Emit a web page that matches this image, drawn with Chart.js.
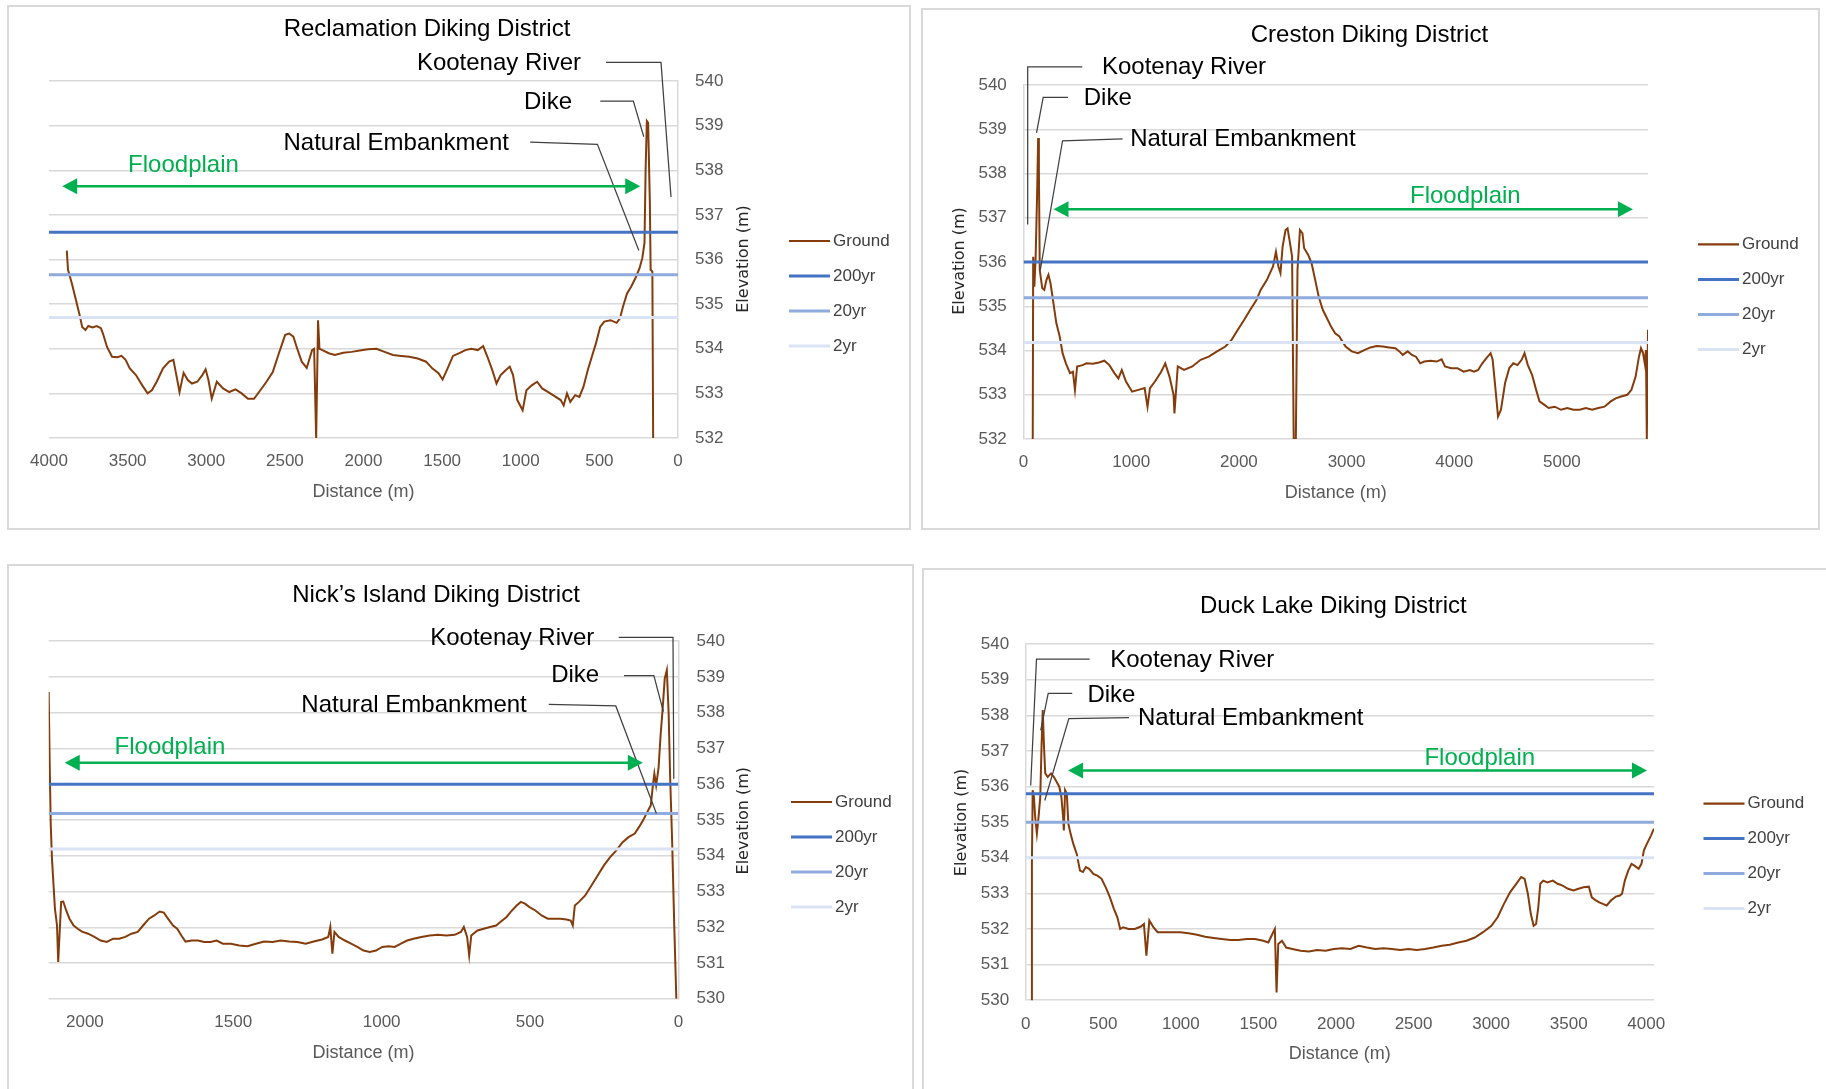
<!DOCTYPE html>
<html><head><meta charset="utf-8">
<script src="https://cdn.jsdelivr.net/npm/chart.js@4.4.0/dist/chart.umd.min.js"></script>
<style>
html,body{margin:0;padding:0;background:#fff;}
body{width:1826px;height:1089px;overflow:hidden;position:relative;}
canvas{position:absolute;}
.frame{position:absolute;box-sizing:border-box;border:0 solid #d9d9d9;pointer-events:none;}
</style></head><body>
<canvas id="c1" width="904" height="525" style="left:7px;top:5px"></canvas>
<canvas id="c2" width="899" height="522" style="left:921px;top:8px"></canvas>
<canvas id="c3" width="907" height="525" style="left:7px;top:564px"></canvas>
<canvas id="c4" width="904" height="521" style="left:922px;top:568px"></canvas>
<div class="frame" style="left:7px;top:5px;width:904px;height:525px;border-width:2px"></div>
<div class="frame" style="left:921px;top:8px;width:899px;height:522px;border-width:2px"></div>
<div class="frame" style="left:7px;top:564px;width:907px;height:530px;border-width:2px 2px 0 2px"></div>
<div class="frame" style="left:922px;top:568px;width:910px;height:530px;border-width:2px 0 0 2px"></div>
<script>
// ---------- DATA ----------
const chartTitles = ['Reclamation Diking District', 'Creston Diking District', 'Nick\u2019s Island Diking District', 'Duck Lake Diking District'];
const seriesNames = ['Ground', '200yr', '20yr', '2yr'];
const annotationTexts = ['Kootenay River', 'Dike', 'Natural Embankment'];
const floodplainText = 'Floodplain';
const xAxisTitle = 'Distance (m)';
const yAxisTitle = 'Elevation (m)';

// Reclamation Diking District
const reclamationRange = [0, 4000];
const reclamationXTicks = [0, 500, 1000, 1500, 2000, 2500, 3000, 3500, 4000];
const reclamationLevels = [536.61, 535.66, 534.70];
const reclamationDistance = [3887,3879,3855,3829,3803,3789,3768,3750,3723,3697,3670,3657,3631,3599,3565,3539,3513,3486,3447,3407,3373,3346,3315,3275,3236,3209,3188,3170,3144,3117,3091,3057,3025,3004,2986,2965,2933,2893,2854,2814,2775,2735,2696,2656,2617,2577,2538,2498,2472,2446,2425,2393,2361,2327,2314,2301,2289,2280,2261,2221,2182,2129,2076,2024,1971,1918,1866,1813,1760,1708,1655,1602,1563,1523,1497,1470,1431,1391,1352,1315,1273,1239,1212,1181,1154,1128,1096,1070,1049,1022,988,964,930,896,864,825,785,746,727,706,685,654,627,601,574,548,522,495,469,429,390,369,350,324,298,271,245,227,213,206,198,190,179,174,163,158];
const reclamationGround = [536.2,535.77,535.47,535.1,534.72,534.49,534.42,534.51,534.48,534.51,534.46,534.34,534.04,533.82,533.81,533.84,533.75,533.56,533.41,533.18,533.0,533.07,533.26,533.56,533.71,533.75,533.37,533.03,533.46,533.30,533.22,533.26,533.41,533.54,533.30,532.88,533.26,533.11,533.03,533.09,533.0,532.88,532.88,533.07,533.26,533.48,533.9,534.31,534.34,534.27,534.04,533.71,533.57,533.97,534.0,532.0,534.64,534.0,533.97,533.9,533.86,533.91,533.93,533.96,533.99,534.0,533.93,533.86,533.84,533.82,533.78,533.71,533.56,533.45,533.31,533.52,533.84,533.9,533.97,534.0,533.97,534.06,533.82,533.52,533.22,533.41,533.52,533.6,533.41,532.85,532.62,533.07,533.18,533.26,533.11,533.03,532.94,532.85,532.73,533.0,532.81,532.96,532.92,533.15,533.52,533.82,534.12,534.49,534.61,534.64,534.58,534.68,534.94,535.24,535.39,535.58,535.8,536.03,536.37,538.01,539.1,539.06,537.27,535.77,535.73,532.0];

// Creston Diking District
const crestonRange = [0, 5800];
const crestonXTicks = [0, 1000, 2000, 3000, 4000, 5000];
const crestonLevels = [536.0, 535.19, 534.18];
const crestonDistance = [85,89,100,112,127,135,142,150,173,192,212,231,250,277,304,335,362,393,431,458,477,497,547,585,643,700,750,797,843,881,912,951,1008,1066,1124,1151,1174,1220,1278,1316,1355,1393,1401,1432,1490,1567,1644,1720,1797,1874,1932,1990,2048,2105,2163,2202,2259,2317,2344,2367,2386,2406,2433,2452,2475,2494,2509,2529,2544,2567,2590,2606,2644,2675,2702,2741,2779,2818,2856,2894,2933,2952,2991,3048,3106,3164,3222,3279,3337,3395,3453,3491,3522,3568,3607,3645,3684,3722,3780,3837,3883,3914,3972,4030,4087,4145,4184,4222,4261,4299,4338,4357,4384,4407,4434,4472,4511,4549,4588,4626,4653,4684,4723,4761,4792,4838,4877,4934,4992,5050,5108,5165,5223,5281,5339,5396,5454,5500,5550,5608,5646,5685,5716,5735,5754,5770,5781,5789,5800];
const crestonGround = [532.0,536.12,535.44,536.12,537.70,538.80,538.08,535.82,535.41,535.37,535.59,535.71,535.52,535.07,534.62,534.32,533.94,533.71,533.49,533.52,533.11,533.64,533.67,533.71,533.7,533.73,533.77,533.67,533.49,533.37,533.56,533.3,533.07,533.11,533.15,532.73,533.15,533.3,533.52,533.71,533.41,533.0,532.58,533.64,533.56,533.64,533.79,533.86,533.98,534.09,534.24,534.47,534.69,534.92,535.14,535.37,535.59,535.9,536.23,535.9,535.75,536.35,536.72,536.76,536.42,536.12,532.0,532.0,535.82,536.72,536.65,536.31,536.16,535.97,535.67,535.22,534.92,534.73,534.54,534.39,534.32,534.24,534.09,533.98,533.94,534.01,534.07,534.1,534.09,534.07,534.05,533.98,533.9,533.98,533.9,533.86,533.71,533.75,533.77,533.75,533.8,533.64,533.6,533.6,533.52,533.56,533.52,533.56,533.71,533.83,533.94,533.79,533.11,532.51,532.66,533.26,533.6,533.71,533.67,533.79,533.94,533.67,533.45,533.11,532.85,532.77,532.7,532.73,532.66,532.7,532.66,532.66,532.7,532.66,532.7,532.73,532.85,532.92,532.96,533.0,533.11,533.41,533.86,534.05,533.94,533.71,534.01,532.0,534.47];

// Nick's Island Diking District
const nicksRange = [0, 2122];
const nicksXTicks = [0, 500, 1000, 1500, 2000];
const nicksLevels = [536.0, 535.18, 534.19];
const nicksDistance = [2122,2119,2115,2111,2101,2094,2090,2085,2080,2073,2063,2052,2038,2024,2010,1989,1968,1947,1926,1905,1884,1864,1843,1822,1804,1784,1766,1748,1734,1720,1703,1689,1675,1661,1640,1619,1598,1577,1556,1535,1508,1480,1452,1424,1396,1368,1340,1312,1284,1256,1229,1201,1180,1173,1166,1159,1145,1124,1103,1082,1061,1040,1019,998,977,956,935,914,893,866,838,810,782,754,733,723,712,705,698,677,656,635,614,600,579,565,545,531,517,503,482,461,440,419,398,377,363,356,349,335,314,293,272,251,230,209,188,168,147,133,119,105,93,86,81,75,67,60,53,46,39,33,28,21,14,7];
const nicksGround = [538.58,536.72,534.85,533.92,532.52,532.05,531.03,531.87,532.71,532.72,532.47,532.24,532.05,531.96,531.88,531.82,531.73,531.63,531.59,531.68,531.68,531.73,531.82,531.87,532.05,532.24,532.33,532.44,532.41,532.24,532.05,531.96,531.77,531.6,531.63,531.63,531.59,531.59,531.63,531.54,531.54,531.49,531.47,531.54,531.6,531.59,531.63,531.6,531.59,531.54,531.6,531.66,531.73,532.01,531.26,531.87,531.73,531.63,531.54,531.45,531.35,531.31,531.35,531.45,531.47,531.45,531.54,531.63,531.68,531.73,531.77,531.79,531.77,531.79,531.87,532.01,531.73,531.21,531.77,531.91,531.96,532.01,532.05,532.15,532.29,532.43,532.61,532.71,532.66,532.57,532.47,532.33,532.24,532.24,532.24,532.22,532.19,532.05,532.61,532.71,532.89,533.17,533.45,533.73,533.96,534.15,534.38,534.52,534.62,534.8,534.99,535.22,535.41,535.97,536.3,535.97,536.44,537.37,538.12,538.96,539.19,538.02,536.25,534.38,532.05,530.0];

// Duck Lake Diking District
const duckRange = [0, 4050];
const duckXTicks = [0, 500, 1000, 1500, 2000, 2500, 3000, 3500, 4000];
const duckLevels = [535.8, 535.0, 534.0];
const duckDistance = [35,40,45,53,61,72,83,94,102,110,118,126,142,163,182,200,217,230,241,246,254,265,275,289,307,329,350,369,388,409,436,462,489,516,543,569,591,609,628,663,703,743,762,778,797,823,850,890,944,997,1050,1104,1157,1211,1264,1318,1371,1425,1478,1532,1564,1590,1606,1617,1628,1652,1679,1719,1772,1826,1879,1933,1986,2039,2093,2146,2200,2253,2307,2360,2414,2467,2521,2574,2628,2681,2734,2788,2841,2895,2948,3002,3042,3082,3122,3162,3194,3216,3237,3256,3274,3290,3304,3317,3336,3363,3398,3429,3461,3496,3531,3563,3595,3630,3649,3670,3697,3724,3745,3772,3804,3830,3844,3862,3884,3905,3924,3951,3969,3985,4004,4031,4050];
const duckGround = [530.0,533.83,535.9,535.71,535.15,534.68,535.15,535.71,537.12,538.15,537.12,536.37,536.27,536.37,536.27,536.13,535.99,535.71,535.15,534.77,535.9,535.8,534.96,534.68,534.39,534.11,533.64,533.6,533.74,533.69,533.55,533.5,533.41,533.17,532.89,532.56,532.33,532.0,532.05,532.0,532.0,532.07,532.14,531.25,532.24,532.05,531.91,531.91,531.91,531.91,531.88,531.84,531.78,531.75,531.72,531.69,531.69,531.72,531.72,531.67,531.62,531.86,532.0,530.22,531.58,531.67,531.48,531.44,531.39,531.37,531.41,531.39,531.44,531.46,531.44,531.53,531.48,531.44,531.46,531.44,531.41,531.44,531.41,531.44,531.48,531.53,531.56,531.62,531.67,531.76,531.91,532.09,532.33,532.7,533.03,533.27,533.46,533.41,532.99,532.42,532.09,532.14,532.61,533.27,533.36,533.31,533.36,533.27,533.22,533.13,533.08,533.13,533.17,533.19,532.89,532.82,532.75,532.7,532.66,532.8,532.91,532.94,532.99,533.36,533.64,533.83,533.78,533.69,533.83,534.21,534.39,534.63,534.82];

// ---------- STYLE / LAYOUT ----------
Chart.defaults.font.family = '"Liberation Sans", Arial, sans-serif';
const seriesColors = ['#843c0c', '#4472c4', '#8faadc', '#dae3f3'];
const seriesWidths = [2, 3, 3, 3];
const textFont = '"Liberation Sans", Arial, sans-serif';

const panels = [
  { canvas:'c1', title:chartTitles[0], distance:reclamationDistance, ground:reclamationGround, levels:reclamationLevels, range:reclamationRange, xTicks:reclamationXTicks,
    yMin:532, yMax:540, reverse:true, yPos:'right',
    padding:{left:42, top:76, right:173, bottom:0}, xAxisH:92, yPad:17, xTitlePad:27.2,
    titleAt:[420,24.7], yTitleAt:[737,254], legendAt:[782,236], align:'right',
    labelsAt:[[617,540.385],[674,539.53],[1075,538.61]],
    leaders:[[[458,540.415],[108,540.415],[44.5,537.40]],[[494,539.55],[284,539.55],[217.5,538.75]],[[940,538.63],[512.5,538.58],[249,536.20]]],
    floodTextAt:[3497,538.11], arrow:[3916,240,537.64] },
  { canvas:'c2', title:chartTitles[1], distance:crestonDistance, ground:crestonGround, levels:crestonLevels, range:crestonRange, xTicks:crestonXTicks,
    yMin:532, yMax:540, reverse:false, yPos:'left',
    padding:{left:42.6, top:77, right:172, bottom:0}, xAxisH:91, yPad:16.8, xTitlePad:26.2,
    titleAt:[448.4,27.8], yTitleAt:[39,253], legendAt:[777,236.4], align:'left',
    labelsAt:[[728,540.39],[559,539.70],[990,538.76]],
    leaders:[[[545,540.41],[38,540.41],[38,536.85]],[[412,539.72],[182,539.72],[120,538.92]],[[920,538.78],[362,538.74],[155,535.82]]],
    floodTextAt:[3589,537.48], arrow:[278,5660,537.19] },
  { canvas:'c3', title:chartTitles[2], distance:nicksDistance, ground:nicksGround, levels:nicksLevels, range:nicksRange, xTicks:nicksXTicks,
    yMin:530, yMax:540, reverse:true, yPos:'right',
    padding:{left:41.7, top:77.2, right:175.6, bottom:0}, xAxisH:90.2, yPad:18.2, xTitlePad:24.9,
    titleAt:[429,31.2], yTitleAt:[737,256.7], legendAt:[784,238], align:'right',
    labelsAt:[[283.4,540.08],[267,539.04],[511,538.20]],
    leaders:[[[201,540.11],[18.2,540.11],[15.5,536.15]],[[183.3,539.04],[82.6,539.04],[50.6,538.03]],[[437,538.23],[211,538.19],[74.2,535.18]]],
    floodTextAt:[1900,537.03], arrow:[2068,120,536.60] },
  { canvas:'c4', title:chartTitles[3], distance:duckDistance, ground:duckGround, levels:duckLevels, range:duckRange, xTicks:duckXTicks,
    yMin:530, yMax:540, reverse:false, yPos:'left',
    padding:{left:43.7, top:76.2, right:172, bottom:0}, xAxisH:88.8, yPad:16.6, xTitlePad:24.2,
    titleAt:[411.4,38.8], yTitleAt:[39.5,254.4], legendAt:[781.5,235.6], align:'left',
    labelsAt:[[545,539.55],[398,538.57],[724,537.91]],
    leaders:[[[412,539.58],[69.6,539.58],[32.2,536.03]],[[300,538.62],[145,538.62],[96.7,537.58]],[[666,537.94],[278,537.91],[123,535.61]]],
    floodTextAt:[2570,536.80], arrow:[273,4005,536.45] }
];

function decorPlugin(p) {
  return {
    id: 'decor_' + p.canvas,
    afterDraw(chart) {
      const c = chart.ctx, xs = chart.scales.x, ys = chart.scales.y;
      const X = v => xs.getPixelForValue(v), Y = v => ys.getPixelForValue(v);
      c.save();
      // chart title
      c.fillStyle = '#000'; c.textAlign = 'center'; c.textBaseline = 'middle';
      c.font = '24px ' + textFont;
      c.fillText(p.title, p.titleAt[0], p.titleAt[1]);
      // y axis title (reads bottom to top)
      c.save();
      c.translate(p.yTitleAt[0], p.yTitleAt[1]); c.rotate(-Math.PI / 2);
      c.font = '16px "DejaVu Sans", Verdana, sans-serif'; c.fillStyle = '#262626';
      c.fillText(yAxisTitle, 0, 0);
      c.restore();
      // legend
      c.textAlign = 'left'; c.font = '17px ' + textFont; c.fillStyle = '#404040';
      seriesNames.forEach((name, i) => {
        const ly = p.legendAt[1] + i * 35;
        c.beginPath(); c.strokeStyle = seriesColors[i]; c.lineWidth = i === 0 ? 2.2 : 3;
        c.moveTo(p.legendAt[0], ly); c.lineTo(p.legendAt[0] + 41, ly); c.stroke();
        c.fillText(name, p.legendAt[0] + 44, ly);
      });
      // leader lines
      c.strokeStyle = '#404040'; c.lineWidth = 1.25;
      p.leaders.forEach(pts => {
        c.beginPath();
        pts.forEach((pt, k) => { const px = X(pt[0]), py = Y(pt[1]); if (k === 0) c.moveTo(px, py); else c.lineTo(px, py); });
        c.stroke();
      });
      // annotation labels
      c.fillStyle = '#000'; c.font = '24px ' + textFont; c.textAlign = p.align;
      annotationTexts.forEach((t, i) => c.fillText(t, X(p.labelsAt[i][0]), Y(p.labelsAt[i][1])));
      // floodplain arrow
      const green = '#00b050';
      c.fillStyle = green; c.textAlign = 'left';
      c.fillText(floodplainText, X(p.floodTextAt[0]), Y(p.floodTextAt[1]));
      const xa = X(p.arrow[0]), xb = X(p.arrow[1]), ya = Y(p.arrow[2]);
      const xl = Math.min(xa, xb), xr = Math.max(xa, xb), hl = 15, hw = 8;
      c.strokeStyle = green; c.lineWidth = 2.5;
      c.beginPath(); c.moveTo(xl + hl - 1, ya); c.lineTo(xr - hl + 1, ya); c.stroke();
      c.beginPath(); c.moveTo(xl, ya); c.lineTo(xl + hl, ya - hw); c.lineTo(xl + hl, ya + hw); c.closePath(); c.fill();
      c.beginPath(); c.moveTo(xr, ya); c.lineTo(xr - hl, ya - hw); c.lineTo(xr - hl, ya + hw); c.closePath(); c.fill();
      c.restore();
    }
  };
}

panels.forEach(p => {
  const groundPts = p.distance.map((d, i) => ({ x: d, y: p.ground[i] }));
  const datasets = [{ label: seriesNames[0], data: groundPts, borderColor: seriesColors[0], borderWidth: seriesWidths[0], pointRadius: 0, tension: 0, order: 10 }];
  p.levels.forEach((lv, i) => datasets.push({
    label: seriesNames[i + 1], data: [{ x: p.range[0], y: lv }, { x: p.range[1], y: lv }],
    borderColor: seriesColors[i + 1], borderWidth: seriesWidths[i + 1], pointRadius: 0, order: 1 + i
  }));
  new Chart(document.getElementById(p.canvas), {
    type: 'line',
    data: { datasets },
    options: {
      responsive: false, animation: false, devicePixelRatio: 1,
      layout: { padding: p.padding },
      plugins: { legend: { display: false }, title: { display: false }, tooltip: { enabled: false } },
      scales: {
        x: {
          type: 'linear', position: 'bottom', min: p.range[0], max: p.range[1], reverse: p.reverse,
          grid: { display: false, drawTicks: false }, border: { display: false },
          ticks: { autoSkip: false, maxRotation: 0, padding: 13.6, color: '#595959', font: { size: 17 }, callback: v => String(v) },
          afterBuildTicks(s) { s.ticks = p.xTicks.map(v => ({ value: v })); },
          title: { display: true, text: xAxisTitle, color: '#595959', font: { size: 18 }, padding: { top: 0, bottom: p.xTitlePad } },
          afterFit(s) { s.height = p.xAxisH; }
        },
        y: {
          type: 'linear', position: p.yPos, min: p.yMin, max: p.yMax,
          grid: { color: '#d9d9d9', lineWidth: 1.5, drawTicks: false },
          border: { display: true, color: '#d9d9d9', width: 1.5 },
          ticks: { stepSize: 1, padding: p.yPad, color: '#595959', font: { size: 17 }, callback: v => String(v) },
          afterFit(s) { s.width = 60; }
        }
      }
    },
    plugins: [decorPlugin(p)]
  });
});
</script>
</body></html>
